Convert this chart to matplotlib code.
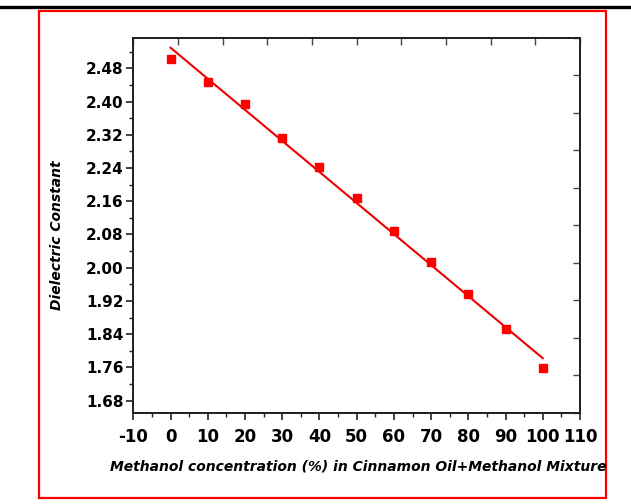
import numpy as np
import matplotlib
matplotlib.use("Agg")
import matplotlib.pyplot as plt
from matplotlib.patches import Rectangle
from matplotlib.lines import Line2D
from matplotlib.ticker import MultipleLocator, FixedLocator

# ---- data ----
concentration = [0, 10, 20, 30, 40, 50, 60, 70, 80, 90, 100]
dielectric = [2.502, 2.447, 2.393, 2.313, 2.243, 2.167, 2.089, 2.014, 1.936, 1.852, 1.758]
xticks = [-10, 0, 10, 20, 30, 40, 50, 60, 70, 80, 90, 100, 110]
yticks = [1.68, 1.76, 1.84, 1.92, 2.00, 2.08, 2.16, 2.24, 2.32, 2.40, 2.48]
xlabel = "Methanol concentration (%) in Cinnamon Oil+Methanol Mixture"
ylabel = "Dielectric Constant"

plt.rcParams['font.family'] = ['DejaVu Sans']
plt.rcParams['axes.unicode_minus'] = False

fig = plt.figure(figsize=(6.31, 5.04), dpi=100)
ax = fig.add_axes([0.2113, 0.1812, 0.9192 - 0.2113, 0.9246 - 0.1812])

x = np.array(concentration, dtype=float)
y = np.array(dielectric, dtype=float)
coef = np.polyfit(x, y, 1)
xf = np.array([x.min(), x.max()])
ax.plot(xf, np.polyval(coef, xf), color='#ee0000', lw=1.5, zorder=2)
ax.plot(x, y, ls='none', marker='s', ms=5.5, color='#ff0000', mec='#ff0000', zorder=3)

ax.set_xlim(-10, 110)
ax.set_ylim(1.651, 2.553)
ax.xaxis.set_major_locator(FixedLocator(xticks))
ax.set_xticklabels([str(v) for v in xticks])
ax.yaxis.set_major_locator(FixedLocator(yticks))
ax.set_yticklabels([f"{v:.2f}" for v in yticks])
ax.xaxis.set_minor_locator(MultipleLocator(5))
ax.yaxis.set_minor_locator(MultipleLocator(0.04))
ax.tick_params(axis='both', which='major', direction='out', length=5, width=1.2, color='#222222')
ax.tick_params(axis='both', which='minor', direction='out', length=3, width=1.0, color='#222222')
ax.tick_params(axis='x', labelsize=12, pad=6)
ax.tick_params(axis='y', labelsize=11, pad=2)
for lab in ax.get_xticklabels() + ax.get_yticklabels():
    lab.set_fontweight('bold')
for sp in ax.spines.values():
    sp.set_linewidth(1.2)
    sp.set_color('#222222')

# top and right axes with independent 10-interval ticks
axt = ax.twiny()
axt.set_xlim(0, 1)
axt.xaxis.set_major_locator(MultipleLocator(0.1))
axt.tick_params(axis='x', direction='in', length=5, width=1.0, color='#444444', labeltop=False)
axr = ax.twinx()
axr.set_ylim(0, 1)
axr.yaxis.set_major_locator(MultipleLocator(0.1))
axr.tick_params(axis='y', direction='in', length=5, width=1.0, color='#444444', labelright=False)
for a in (axt, axr):
    for sp in a.spines.values():
        sp.set_linewidth(1.2)
        sp.set_color('#222222')

fig.text(358 / 631, 1 - 467 / 504, xlabel, ha='center', va='center',
         fontsize=10, fontweight='bold', fontstyle='italic')
fig.text(57 / 631, 1 - 235 / 504, ylabel, ha='center', va='center', rotation=90,
         fontsize=10, fontweight='bold', fontstyle='italic')

# red frame and black top rule
fig.patches.append(Rectangle((38.5 / 631, 1 - 498 / 504), (606 - 38.5) / 631, (498 - 11) / 504,
                             transform=fig.transFigure, fill=False, edgecolor='#ff0000', lw=1.6))
fig.lines.append(Line2D([0, 1], [1 - 7 / 504, 1 - 7 / 504], transform=fig.transFigure,
                        color='black', lw=2.4))

fig.savefig("out.png", dpi=100)
